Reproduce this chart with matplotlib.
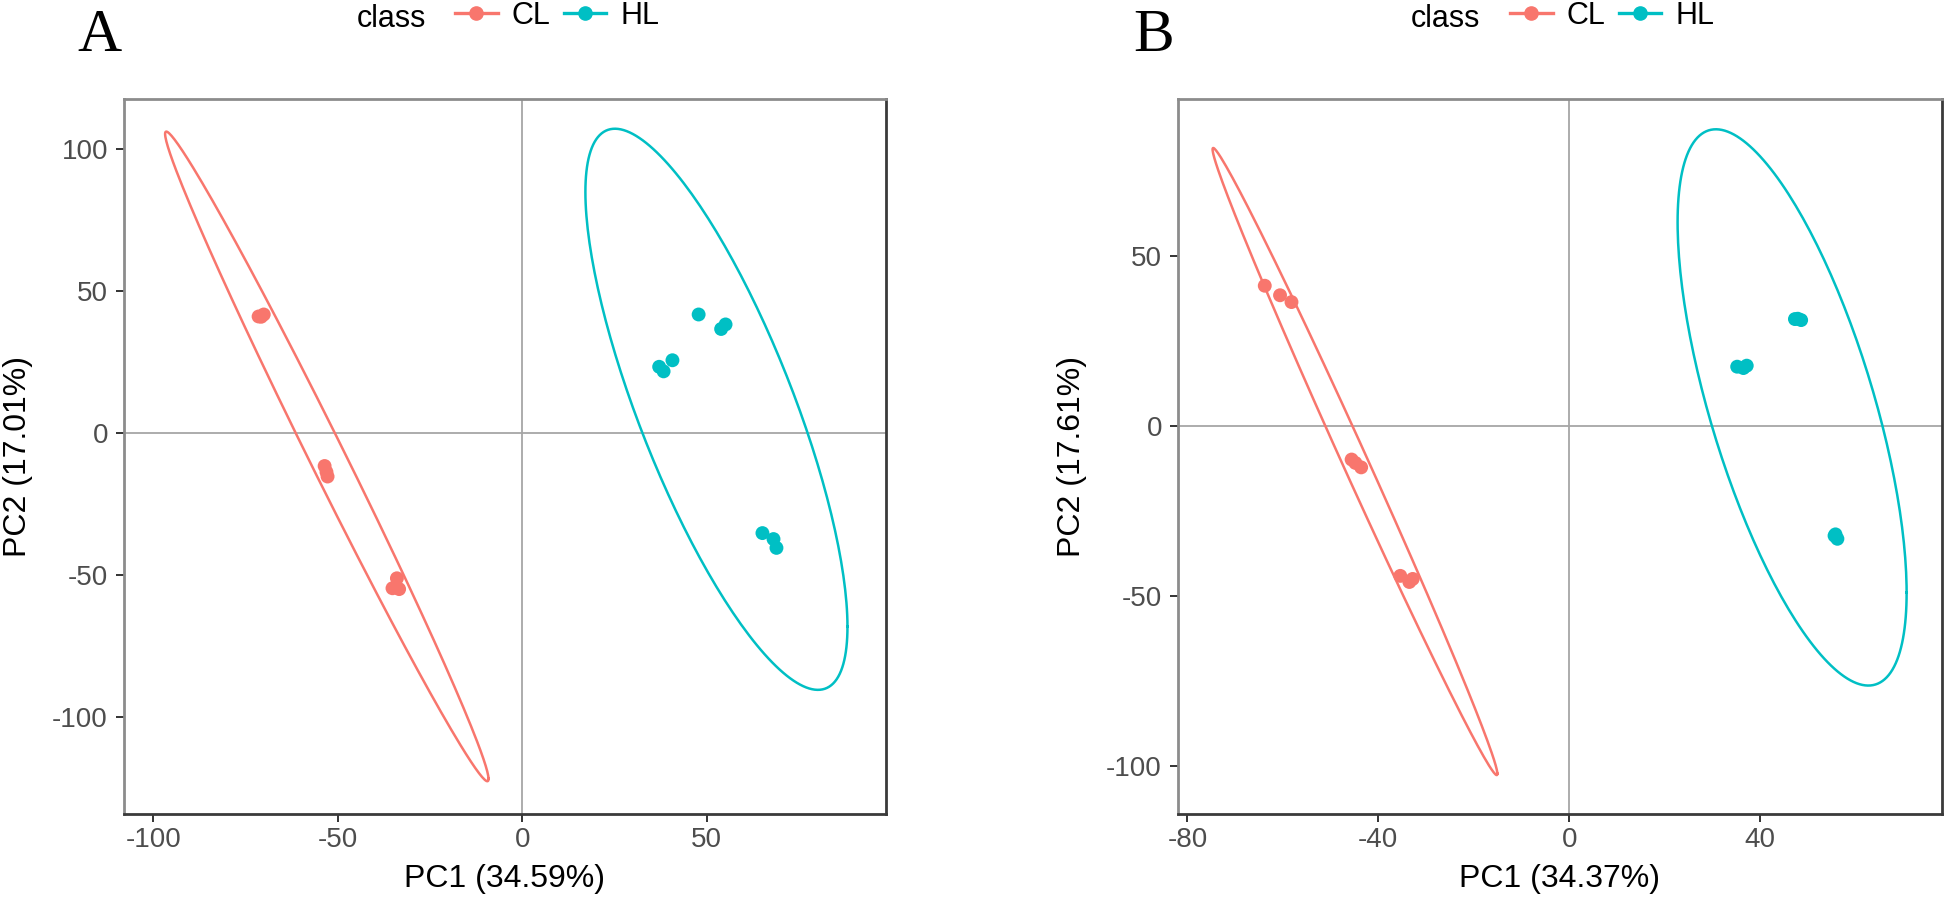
import matplotlib
matplotlib.use('Agg')
import matplotlib.pyplot as plt
from matplotlib.lines import Line2D
import numpy as np

# PCA scores
A_CL_x = [-71.5, -70.1, -70.8, -53.6, -53.1, -52.8, -35.2, -34.0, -33.4]
A_CL_y = [41.0, 41.7, 40.9, -11.6, -13.7, -15.3, -54.6, -51.1, -54.9]
A_HL_x = [47.8, 53.9, 55.1, 37.1, 38.3, 40.7, 65.1, 68.1, 68.9]
A_HL_y = [41.7, 36.6, 38.2, 23.3, 21.7, 25.6, -35.2, -37.3, -40.4]

B_CL_x = [-63.8, -60.6, -58.2, -45.6, -44.8, -43.6, -35.4, -33.5, -32.8]
B_CL_y = [41.3, 38.5, 36.5, -9.8, -10.8, -12.1, -44.0, -45.8, -44.9]
B_HL_x = [35.2, 37.2, 36.5, 47.3, 48.6, 47.9, 55.8, 56.2, 55.6]
B_HL_y = [17.5, 17.8, 17.1, 31.5, 31.2, 31.6, -31.8, -33.1, -32.2]

classes = ['CL', 'HL']
colors = {'CL': '#F8766D', 'HL': '#00BFC4'}

A_xlabel = 'PC1 (34.59%)'
A_ylabel = 'PC2 (17.01%)'
B_xlabel = 'PC1 (34.37%)'
B_ylabel = 'PC2 (17.61%)'
A_xticks = [-100, -50, 0, 50]
A_yticks = [-100, -50, 0, 50, 100]
B_xticks = [-80, -40, 0, 40]
B_yticks = [-100, -50, 0, 50]


def cov_trob(xy, nu=5, maxit=25, tol=0.01):
    # same iteration as MASS::cov.trob (used by ggplot stat_ellipse)
    n, p = xy.shape
    wt = np.ones(n)
    loc = xy.mean(0)
    w = np.sqrt(wt)
    for _ in range(maxit):
        w0 = w
        X = xy - loc
        _, d, vt = np.linalg.svd(np.sqrt(w / w.sum())[:, None] * X, full_matrices=False)
        wX = X @ vt.T @ np.diag(1 / d)
        Q = (wX ** 2).sum(1)
        w = wt * (nu + p) / (nu + Q)
        loc = (w[:, None] * xy).sum(0) / w.sum()
        if np.all(np.abs(w - w0) < tol):
            break
    sX = np.sqrt(w)[:, None] * X
    return loc, sX.T @ sX / wt.sum()


def ellipse(x, y, level=0.95, seg=200):
    xy = np.column_stack([x, y])
    center, shape = cov_trob(xy)
    dfd = len(x) - 1
    qf = dfd / 2 * ((1 - level) ** (-2 / dfd) - 1)  # F(2, dfd) quantile
    radius = np.sqrt(2 * qf)
    ang = np.linspace(0, 2 * np.pi, seg + 1)
    circ = np.column_stack([np.cos(ang), np.sin(ang)])
    L = np.linalg.cholesky(shape)
    e = center + radius * circ @ L.T
    return e[:, 0], e[:, 1]


plt.rcParams['font.family'] = ['Liberation Sans', 'DejaVu Sans']
plt.rcParams['axes.unicode_minus'] = False

fig = plt.figure(figsize=(19.46, 9.05), dpi=100)

panels = [
    dict(tag='A', rect=[0.0637, 0.1006, 0.3916, 0.790], xlim=(-108, 98.6), ylim=(-134, 117.5),
         xt=A_xticks, yt=A_yticks, xl=A_xlabel, yl=A_ylabel,
         data={'CL': (A_CL_x, A_CL_y), 'HL': (A_HL_x, A_HL_y)},
         tagx=100 / 1946, classx=357 / 1946, legx=455 / 1946),
    dict(tag='B', rect=[0.6053, 0.1006, 0.3926, 0.790], xlim=(-82, 78.1), ylim=(-114, 96.2),
         xt=B_xticks, yt=B_yticks, xl=B_xlabel, yl=B_ylabel,
         data={'CL': (B_CL_x, B_CL_y), 'HL': (B_HL_x, B_HL_y)},
         tagx=1154 / 1946, classx=1411 / 1946, legx=1510 / 1946),
]

for p in panels:
    ax = fig.add_axes(p['rect'])
    ax.axhline(0, color='#A6A6A6', lw=1.3, zorder=1)
    ax.axvline(0, color='#A6A6A6', lw=1.3, zorder=1)
    for c in classes:
        x, y = p['data'][c]
        ex, ey = ellipse(x, y)
        ax.plot(ex, ey, color=colors[c], lw=1.8, zorder=2)
        ax.scatter(x, y, s=100, color=colors[c], edgecolors='none', zorder=3)
    ax.set_xlim(p['xlim'])
    ax.set_ylim(p['ylim'])
    ax.set_xticks(p['xt'])
    ax.set_yticks(p['yt'])
    ax.tick_params(labelsize=20, labelcolor='#4D4D4D', color='#333333',
                   length=6, width=1.4, direction='out')
    ax.tick_params(axis='x', pad=3.5)
    ax.tick_params(axis='y', pad=5.5)
    for s in ['top', 'left']:
        ax.spines[s].set_color('#8C8C8C')
        ax.spines[s].set_linewidth(2)
    for s in ['bottom', 'right']:
        ax.spines[s].set_color('#3A3A3A')
        ax.spines[s].set_linewidth(2)
    ax.set_xlabel(p['xl'], fontsize=23)
    ax.set_ylabel(p['yl'], fontsize=23)
    ax.xaxis.set_label_coords(0.5, -0.070)
    ax.yaxis.set_label_coords(-0.119, 0.5)

    fig.text(p['tagx'], 1 - 51 / 905, p['tag'], family='Liberation Serif',
             fontsize=44, ha='center', va='baseline')
    fig.text(p['classx'], 1 - 27 / 905, 'class', fontsize=22, ha='left', va='baseline')
    handles = [Line2D([], [], color=colors[c], lw=2.4, marker='o', markersize=9.5) for c in classes]
    fig.legend(handles, classes, loc='center left', bbox_to_anchor=(p['legx'], 1 - 16 / 905),
               ncol=2, frameon=False, fontsize=22, handlelength=1.4, handletextpad=0.46,
               columnspacing=0.42, borderpad=0, borderaxespad=0)

fig.savefig('out.png', dpi=100)
